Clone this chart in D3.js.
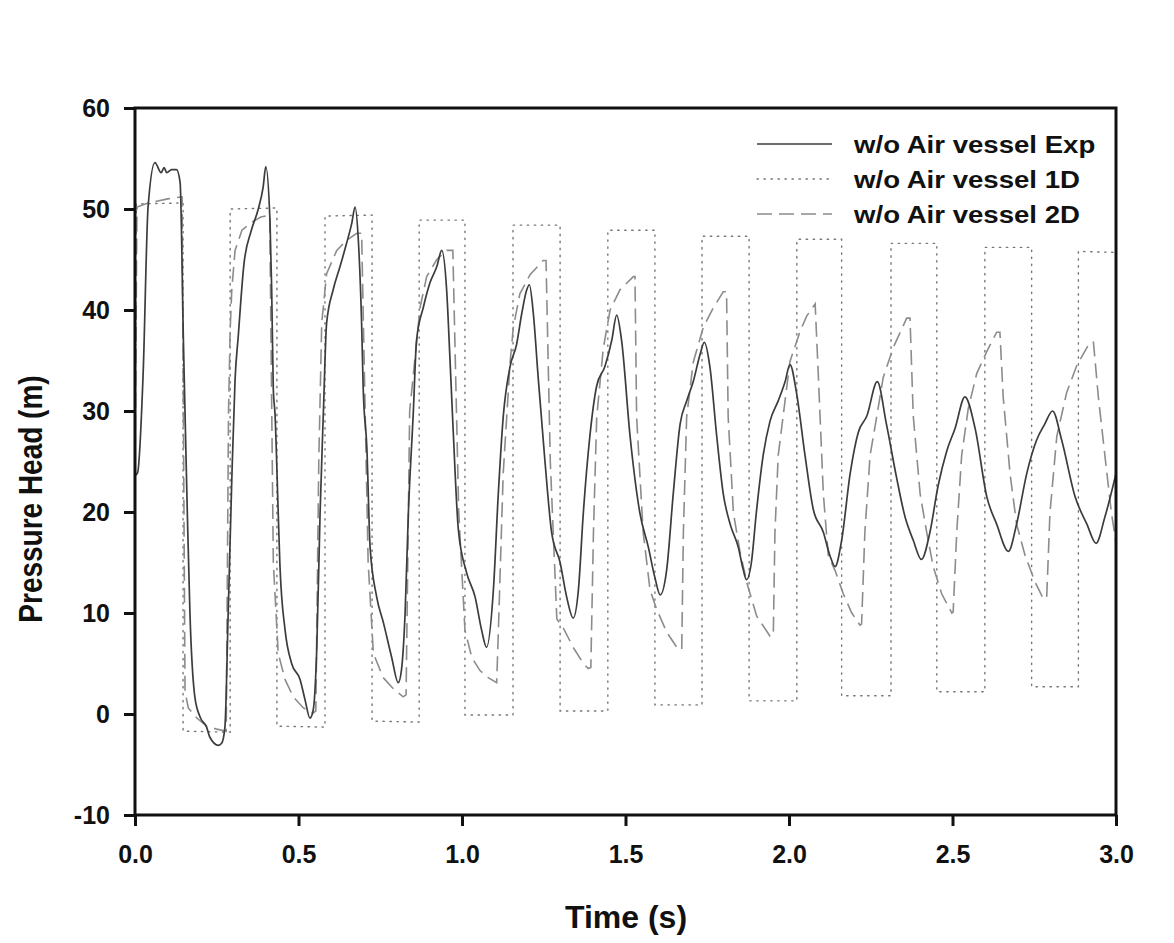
<!DOCTYPE html>
<html>
<head>
<meta charset="utf-8">
<script src="https://cdn.jsdelivr.net/npm/d3@7"></script>
<style>
  html, body { margin: 0; padding: 0; background: #fff; }
  svg { display: block; font-family: "Liberation Sans", Arial, sans-serif; }
</style>
</head>
<body>
<svg id="chart" width="1174" height="943"></svg>
<script>
// ---- data ----
const seriesNames = ["w/o Air vessel Exp", "w/o Air vessel 1D", "w/o Air vessel 2D"];
const xTicks = [0.0, 0.5, 1.0, 1.5, 2.0, 2.5, 3.0];
const yTicks = [-10, 0, 10, 20, 30, 40, 50, 60];

const expT = [0.000,0.008,0.025,0.040,0.061,0.080,0.089,0.097,0.112,0.127,0.138,0.148,0.153,0.160,0.168,0.183,0.199,0.219,0.229,0.255,0.265,0.275,0.285,0.296,0.306,0.316,0.333,0.355,0.377,0.392,0.400,0.413,0.418,0.423,0.428,0.438,0.443,0.459,0.479,0.505,0.520,0.535,0.545,0.556,0.566,0.576,0.586,0.606,0.627,0.647,0.663,0.673,0.683,0.693,0.698,0.709,0.719,0.739,0.760,0.785,0.805,0.815,0.826,0.836,0.851,0.861,0.882,0.902,0.923,0.938,0.953,0.963,0.973,0.989,1.014,1.040,1.060,1.075,1.096,1.111,1.126,1.147,1.167,1.183,1.198,1.206,1.218,1.233,1.254,1.274,1.300,1.320,1.340,1.356,1.371,1.391,1.412,1.437,1.458,1.473,1.488,1.514,1.544,1.570,1.590,1.606,1.626,1.646,1.667,1.687,1.707,1.728,1.741,1.758,1.779,1.799,1.820,1.845,1.860,1.870,1.885,1.900,1.921,1.942,1.967,1.988,2.003,2.023,2.049,2.074,2.105,2.125,2.141,2.161,2.187,2.212,2.238,2.270,2.298,2.329,2.355,2.380,2.405,2.431,2.456,2.482,2.508,2.538,2.569,2.605,2.635,2.671,2.696,2.727,2.757,2.782,2.806,2.834,2.875,2.911,2.939,2.966,3.000];
const expV = [23.6,23.9,33.8,50.2,54.6,53.6,54.1,53.6,53.9,53.9,52.6,37.0,29.8,19.9,10.0,1.7,-0.3,-1.3,-2.3,-3.1,-2.9,-1.3,10.0,23.2,33.1,37.5,44.5,47.8,50.0,52.2,54.2,48.6,42.0,32.1,29.8,19.9,14.9,8.3,5.0,3.4,1.4,-0.4,0.4,6.6,19.9,29.8,38.7,42.0,44.3,46.6,48.6,50.2,46.9,38.7,32.1,26.4,16.5,11.6,9.0,5.6,3.1,4.4,10.0,19.9,29.8,37.0,40.3,42.7,44.3,45.9,42.0,35.3,28.1,18.2,14.0,11.6,8.3,6.6,12.3,21.8,29.4,34.4,36.6,39.7,42.0,42.5,39.7,33.3,24.9,18.0,15.0,11.6,9.5,12.3,19.9,27.5,32.5,34.4,37.0,39.5,37.0,27.5,19.9,16.5,13.5,11.8,14.3,21.8,28.7,31.0,32.9,35.6,36.8,34.4,27.5,21.8,18.8,16.5,14.3,13.3,15.0,19.9,25.6,29.0,31.0,32.9,34.6,31.8,25.6,20.3,18.0,15.7,14.6,17.2,23.8,27.9,29.5,32.9,28.7,23.4,19.5,17.2,15.3,18.0,22.6,26.0,28.3,31.4,28.3,21.5,18.8,16.1,18.8,23.8,27.1,28.7,30.0,27.1,21.5,18.8,16.9,19.5,23.8];

const oneDT = [0.000,0.004,0.147,0.147,0.291,0.291,0.434,0.434,0.581,0.581,0.725,0.725,0.869,0.869,1.009,1.009,1.156,1.156,1.300,1.300,1.446,1.446,1.590,1.590,1.734,1.734,1.878,1.878,2.024,2.024,2.161,2.161,2.312,2.312,2.452,2.452,2.599,2.599,2.742,2.742,2.885,2.885,3.000];
const oneDV = [24.0,50.5,50.6,-1.7,-1.8,50.0,50.1,-1.2,-1.3,49.3,49.4,-0.7,-0.8,48.9,48.9,-0.1,-0.1,48.4,48.4,0.3,0.3,47.9,47.9,0.9,0.9,47.3,47.3,1.3,1.3,47.0,47.0,1.8,1.8,46.6,46.6,2.2,2.2,46.2,46.2,2.7,2.7,45.8,45.7];

const twoDT = [0.000,0.006,0.040,0.100,0.144,0.153,0.163,0.189,0.219,0.250,0.279,0.286,0.291,0.296,0.306,0.327,0.357,0.385,0.412,0.423,0.438,0.459,0.484,0.515,0.545,0.553,0.562,0.571,0.586,0.617,0.647,0.678,0.693,0.713,0.729,0.759,0.790,0.820,0.829,0.840,0.872,0.892,0.923,0.943,0.953,0.972,0.990,1.009,1.030,1.055,1.080,1.106,1.111,1.126,1.147,1.157,1.177,1.208,1.248,1.257,1.270,1.290,1.310,1.340,1.371,1.386,1.394,1.402,1.412,1.432,1.453,1.483,1.524,1.529,1.534,1.554,1.575,1.595,1.626,1.661,1.672,1.677,1.687,1.707,1.738,1.768,1.799,1.809,1.814,1.830,1.850,1.871,1.901,1.942,1.952,1.957,1.967,2.003,2.034,2.054,2.080,2.090,2.105,2.120,2.141,2.166,2.192,2.217,2.222,2.232,2.248,2.268,2.288,2.319,2.360,2.370,2.380,2.401,2.421,2.441,2.467,2.498,2.502,2.513,2.528,2.548,2.574,2.605,2.635,2.645,2.655,2.676,2.696,2.722,2.752,2.778,2.788,2.798,2.819,2.849,2.880,2.920,2.931,2.946,2.966,2.986,3.000];
const twoDV = [23.8,50.2,50.6,51.0,51.2,2.2,0.6,-0.4,-1.2,-1.5,-1.7,30.0,38.0,42.0,45.9,47.9,48.7,49.2,49.4,15.0,6.0,3.4,1.7,0.6,0.1,0.3,25.0,38.7,43.6,45.9,46.9,47.6,47.6,15.0,6.0,3.6,2.5,1.7,1.9,30.0,40.3,43.3,45.0,45.6,45.9,45.9,20.0,8.3,5.6,4.3,3.6,3.1,8.0,23.8,34.8,38.3,41.6,43.5,44.9,44.9,25.0,9.4,8.5,6.6,5.0,4.5,4.6,18.0,29.4,36.2,40.0,42.0,43.3,43.3,29.4,18.0,12.3,10.4,8.1,6.4,6.4,18.0,29.4,34.8,38.3,40.2,41.8,41.8,29.4,19.9,16.1,13.0,9.7,7.7,7.8,18.0,25.6,34.9,37.9,39.4,40.6,33.3,21.8,15.7,14.2,11.9,10.0,8.8,8.9,18.0,25.6,29.4,33.3,36.3,39.2,39.2,29.5,21.8,18.0,14.6,11.9,10.0,10.1,18.0,25.6,30.2,33.7,35.9,37.8,37.8,31.4,23.8,18.8,15.7,13.1,11.4,11.5,19.9,27.5,31.8,34.5,36.8,36.8,31.4,25.6,19.9,17.0];

// ---- layout ----
const pLeft = 135, pRight = 1116, pTop = 108, pBottom = 815;
const svg = d3.select("#chart");
const x = d3.scaleLinear().domain([0, 3]).range([pLeft, pRight]);
const y = d3.scaleLinear().domain([-10, 60]).range([pBottom, pTop]);

svg.append("defs").append("clipPath").attr("id", "clip")
  .append("rect").attr("x", pLeft).attr("y", pTop).attr("width", pRight - pLeft).attr("height", pBottom - pTop);

const plot = svg.append("g").attr("clip-path", "url(#clip)");

const mk = (T, V) => T.map((t, i) => [t, V[i]]);
const lineLin = d3.line().x(d => x(d[0])).y(d => y(d[1]));
const lineSmooth = d3.line().x(d => x(d[0])).y(d => y(d[1])).curve(d3.curveMonotoneX);

const styles = [
  { stroke: "#3c3c3c", width: 1.7, dash: null },
  { stroke: "#777777", width: 1.4, dash: "1.4,5.6" },
  { stroke: "#8c8c8c", width: 1.6, dash: "15,7" }
];

plot.append("path").datum(mk(oneDT, oneDV)).attr("d", lineLin)
  .attr("fill", "none").attr("stroke", styles[1].stroke).attr("stroke-width", styles[1].width)
  .attr("stroke-dasharray", styles[1].dash).attr("stroke-linecap", "round");
plot.append("path").datum(mk(twoDT, twoDV)).attr("d", lineLin)
  .attr("fill", "none").attr("stroke", styles[2].stroke).attr("stroke-width", styles[2].width)
  .attr("stroke-dasharray", styles[2].dash);
plot.append("path").datum(mk(expT, expV)).attr("d", lineSmooth)
  .attr("fill", "none").attr("stroke", styles[0].stroke).attr("stroke-width", styles[0].width)
  .attr("stroke-linejoin", "round");

// ---- frame & axes ----
svg.append("rect").attr("x", pLeft).attr("y", pTop).attr("width", pRight - pLeft).attr("height", pBottom - pTop)
  .attr("fill", "none").attr("stroke", "#111").attr("stroke-width", 3);

const fmtX = d3.format(".1f");
const xAxis = svg.append("g").attr("transform", `translate(0,${pBottom})`)
  .call(d3.axisBottom(x).tickValues(xTicks).tickFormat(fmtX).tickSize(11).tickPadding(19));
const yAxis = svg.append("g").attr("transform", `translate(${pLeft},0)`)
  .call(d3.axisLeft(y).tickValues(yTicks).tickFormat(d => String(d)).tickSize(11).tickPadding(14));
[xAxis, yAxis].forEach(g => {
  g.select(".domain").remove();
  g.selectAll(".tick line").attr("stroke", "#111").attr("stroke-width", 3);
  g.selectAll(".tick text").attr("fill", "#111").attr("font-size", 25).attr("font-weight", "bold")
    .attr("font-family", "'Liberation Sans', Arial, sans-serif");
});

// axis titles
svg.append("text").attr("x", 626).attr("y", 928).attr("text-anchor", "middle")
  .attr("font-size", 32).attr("font-weight", "bold").attr("fill", "#111").text("Time (s)");
svg.append("text").attr("transform", `translate(42,499) scale(1.2,1) rotate(-90)`)
  .attr("text-anchor", "middle").attr("font-size", 28).attr("font-weight", "bold").attr("fill", "#111")
  .text("Pressure Head (m)");

// ---- legend ----
const lg = svg.append("g");
const legY = [144, 179, 214];
seriesNames.forEach((name, i) => {
  lg.append("line").attr("x1", 757).attr("x2", 832).attr("y1", legY[i]).attr("y2", legY[i])
    .attr("stroke", styles[i].stroke).attr("stroke-width", styles[i].width)
    .attr("stroke-dasharray", styles[i].dash).attr("stroke-linecap", i === 1 ? "round" : "butt");
  lg.append("text").attr("transform", `translate(854,${legY[i] + 9}) scale(1.15,1)`)
    .attr("font-size", 24).attr("font-weight", "bold").attr("fill", "#111").text(name);
});
</script>
</body>
</html>
